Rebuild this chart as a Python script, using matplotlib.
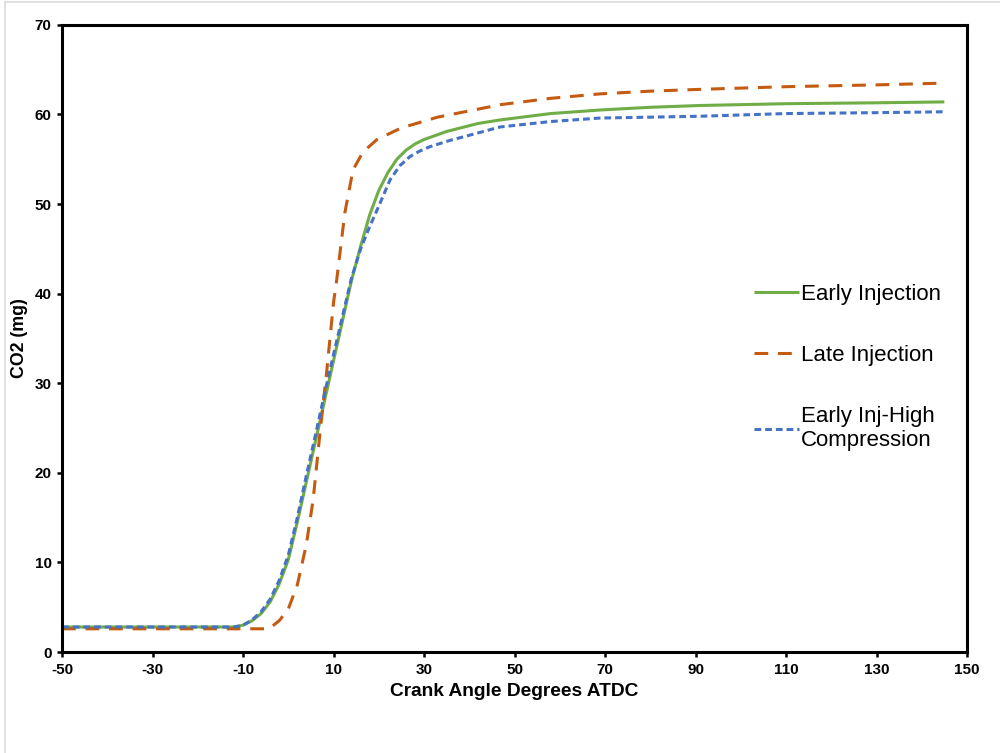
import matplotlib
matplotlib.use('Agg')
from matplotlib import pyplot as plt
from matplotlib.lines import Line2D

plt.rcParams['font.family'] = ['Liberation Sans', 'DejaVu Sans']
plt.rcParams['axes.unicode_minus'] = False

# Early Injection
early_x = [-50, -30, -20, -12, -10, -8, -6, -4, -2, 0, 2, 4, 6, 8, 10, 12, 13, 14, 16, 18, 20, 22,
           24, 26, 28, 30, 35, 42, 47, 58, 69, 80, 91, 110, 130, 145]
early_y = [2.8, 2.8, 2.8, 2.8, 3.0, 3.5, 4.3, 5.6, 7.6, 10.3, 14.5, 19.0, 23.5, 28.0, 32.5, 37.0,
           39.3, 41.5, 45.3, 48.8, 51.5, 53.5, 55.0, 56.0, 56.7, 57.2, 58.1, 59.0, 59.4, 60.1, 60.5,
           60.8, 61.0, 61.2, 61.3, 61.4]

# Late Injection
late_x = [-50, -30, -10, -5, -4, -2, 0, 2, 4, 5.5, 7, 8.5, 10, 10.7, 12.5, 14.3, 16.5, 19.6, 25,
          33, 36, 42, 47, 58, 69, 80, 91, 110, 130, 145]
late_y = [2.6, 2.6, 2.6, 2.6, 2.7, 3.5, 4.8, 7.5, 12.0, 17.0, 24.4, 31.3, 39.0, 41.5, 49.0, 53.8,
          55.8, 57.2, 58.5, 59.7, 60.0, 60.6, 61.1, 61.8, 62.3, 62.6, 62.8, 63.1, 63.3, 63.5]

# Early Inj-High Compression
hc_x = [-50, -30, -20, -12, -10, -8, -6, -4, -2, 0, 2, 4, 6, 8, 10, 12, 14, 16, 18, 19.6, 22.5,
        24.7, 26.9, 29, 31.3, 35.7, 42.4, 46.8, 57.8, 68.9, 80, 91, 110, 130, 145]
hc_y = [2.8, 2.8, 2.8, 2.8, 3.0, 3.6, 4.5, 5.9, 8.0, 10.8, 15.0, 19.7, 24.2, 28.8, 33.2, 37.5,
        41.8, 45.0, 47.5, 49.3, 52.7, 54.3, 55.3, 55.9, 56.4, 57.1, 58.0, 58.6, 59.2, 59.6, 59.7,
        59.8, 60.1, 60.2, 60.3]

x_ticks = [-50, -30, -10, 10, 30, 50, 70, 90, 110, 130, 150]
y_ticks = [0, 10, 20, 30, 40, 50, 60, 70]

green = '#70AD47'
orange = '#C55A11'
blue = '#4472C4'

fig = plt.figure(figsize=(10, 7.53), dpi=100)
ax = fig.add_axes([0.062, 0.134, 0.905, 0.833])

ax.plot(early_x, early_y, color=green, lw=2.2, solid_capstyle='butt', label='Early Injection')
ax.plot(late_x, late_y, color=orange, lw=2.2, dashes=(4.5, 3.2), label='Late Injection')
ax.plot(hc_x, hc_y, color=blue, lw=2.2, dashes=(2.2, 1.3), label='Early Inj-High\nCompression')

ax.set_xlim(-50, 150)
ax.set_ylim(0, 70)
ax.set_xticks(x_ticks)
ax.set_yticks(y_ticks)
for s in ax.spines.values():
    s.set_linewidth(2.2)
    s.set_color('black')
ax.tick_params(direction='out', length=3.5, width=1.8, labelsize=11, pad=4)
for lab in ax.get_xticklabels() + ax.get_yticklabels():
    lab.set_fontweight('bold')

ax.set_xlabel('Crank Angle Degrees ATDC', fontsize=13.8, fontweight='bold', labelpad=5)
ax.set_ylabel('CO2 (mg)', fontsize=12.8, fontweight='bold', labelpad=5)

ax.legend(loc='upper left', bbox_to_anchor=(0.743, 0.619), frameon=False, fontsize=16,
          handlelength=2.0, handletextpad=0.1, labelspacing=1.8)

# faint screenshot frame on the left and top
fig.add_artist(Line2D([0.005, 0.005], [0, 0.997], color='#dcdcdc', lw=1.2))
fig.add_artist(Line2D([0.005, 1.0], [0.997, 0.997], color='#dcdcdc', lw=1.2))

fig.savefig('out.png', dpi=100)
